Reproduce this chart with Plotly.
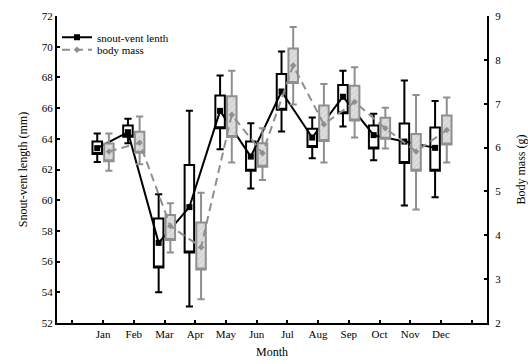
import plotly.graph_objects as go

months = ["Jan", "Feb", "Mar", "Apr", "May", "Jun", "Jul", "Aug", "Sep", "Oct", "Nov", "Dec"]

# snout-vent length (mm)
svl_mean = [63.39, 64.43, 57.22, 59.55, 65.82, 62.84, 67.08, 64.08, 66.74, 64.24, 63.82, 63.41]
svl_box_hi = [63.82, 64.86, 58.81, 62.29, 66.82, 63.82, 68.22, 64.65, 67.50, 64.86, 64.99, 64.73]
svl_box_lo = [63.01, 64.14, 55.61, 56.59, 64.69, 61.92, 65.89, 63.47, 65.67, 63.36, 62.42, 61.92]
svl_whisk_hi = [64.34, 65.30, 60.38, 65.82, 68.13, 65.02, 69.68, 65.39, 68.44, 65.63, 67.80, 66.46]
svl_whisk_lo = [62.49, 63.71, 54.01, 53.08, 63.32, 60.77, 64.47, 62.73, 64.80, 62.60, 59.66, 60.20]

# body mass (g)
bm_mean = [5.91, 6.11, 4.21, 3.73, 6.75, 5.87, 7.87, 6.53, 7.04, 6.44, 5.91, 6.40]
bm_box_hi = [6.09, 6.36, 4.46, 4.29, 7.17, 6.10, 8.26, 6.96, 7.41, 6.68, 6.31, 6.73]
bm_box_lo = [5.69, 5.88, 3.89, 3.22, 6.24, 5.56, 7.47, 6.15, 6.62, 6.20, 5.47, 6.07]
bm_whisk_hi = [6.32, 6.71, 4.73, 4.97, 7.75, 6.44, 8.75, 7.45, 7.83, 6.91, 7.20, 7.14]
bm_whisk_lo = [5.47, 5.62, 3.61, 2.54, 5.66, 5.26, 6.98, 5.66, 6.23, 5.98, 4.59, 5.66]

OFF = 0.19
BW = 0.31
pos = list(range(1, len(months) + 1))
x_svl = [p - OFF for p in pos]
x_bm = [p + OFF for p in pos]

BLACK = "#000000"
GRAY = "#8f8f8f"
FONT = "'Liberation Serif', 'Times New Roman', serif"

fig = go.Figure()

# hatched fill of body-mass boxes
fig.add_trace(go.Bar(
    x=x_bm, y=[h - l for h, l in zip(bm_box_hi, bm_box_lo)], base=bm_box_lo,
    width=BW - 0.02, yaxis="y2",
    marker=dict(color="#dedede", line=dict(width=0),
                pattern=dict(shape="/", fgcolor="#b4b4b4", bgcolor="#dedede", size=4, solidity=0.25)),
    showlegend=False, hoverinfo="skip",
))

fig.add_trace(go.Box(
    x=x_svl, q1=svl_box_lo, median=svl_box_lo, q3=svl_box_hi,
    lowerfence=svl_whisk_lo, upperfence=svl_whisk_hi,
    width=BW, whiskerwidth=0.75, fillcolor="white",
    line=dict(color=BLACK, width=2), boxpoints=False, showlegend=False,
))

fig.add_trace(go.Box(
    x=x_bm, q1=bm_box_lo, median=bm_box_lo, q3=bm_box_hi,
    lowerfence=bm_whisk_lo, upperfence=bm_whisk_hi,
    width=BW, whiskerwidth=0.75, fillcolor="rgba(0,0,0,0)", yaxis="y2",
    line=dict(color=GRAY, width=2), boxpoints=False, showlegend=False,
))

fig.add_trace(go.Scatter(
    x=x_svl, y=svl_mean, mode="lines+markers", name="snout-vent lenth",
    line=dict(color=BLACK, width=2),
    marker=dict(symbol="square", size=6, color=BLACK),
    legend="legend",
))

fig.add_trace(go.Scatter(
    x=x_bm, y=bm_mean, mode="lines+markers", name="body mass", yaxis="y2",
    line=dict(color=GRAY, width=2, dash="8px,5px"),
    marker=dict(symbol="diamond", size=5, color=GRAY),
    legend="legend2",
))

leg_common = dict(xanchor="left", yanchor="top", bgcolor="rgba(0,0,0,0)",
                  font=dict(size=11, family=FONT), itemwidth=30)

fig.update_layout(
    width=528, height=364,
    margin=dict(l=57, r=41, t=16, b=41, autoexpand=False),
    paper_bgcolor="white", plot_bgcolor="white",
    font=dict(family=FONT, size=11, color="black"),
    boxmode="overlay", barmode="overlay",
    showlegend=True,
    legend=dict(x=0.0, y=0.978, **leg_common),
    legend2=dict(x=0.0, y=0.937, **leg_common),
    xaxis=dict(
        range=[-0.5, 13.5], tickmode="array",
        tickvals=list(range(0, len(months) + 2)),
        ticktext=[""] + months + [""],
        ticks="inside", ticklen=3, tickwidth=1.5, tickcolor="black",
        showline=True, linecolor="black", linewidth=2, mirror=False,
        showgrid=False, zeroline=False, automargin=False,
        title=dict(text="Month", font=dict(size=12, family=FONT), standoff=8),
    ),
    yaxis=dict(
        range=[52, 72], dtick=2, ticks="inside", ticklen=3, tickwidth=1.5, tickcolor="black",
        showline=True, linecolor="black", linewidth=2, automargin=False,
        showgrid=False, zeroline=False,
        title=dict(text="Snout-vent length (mm)", font=dict(size=12, family=FONT), standoff=12),
    ),
    yaxis2=dict(
        range=[2, 9], dtick=1, overlaying="y", side="right",
        ticks="inside", ticklen=3, tickwidth=1.5, tickcolor="black",
        showline=True, linecolor="black", linewidth=2, automargin=False,
        showgrid=False, zeroline=False, ticklabelstandoff=4,
        title=dict(text="Body mass (g)", font=dict(size=12, family=FONT), standoff=18),
    ),
)

fig.write_html("out.html")
